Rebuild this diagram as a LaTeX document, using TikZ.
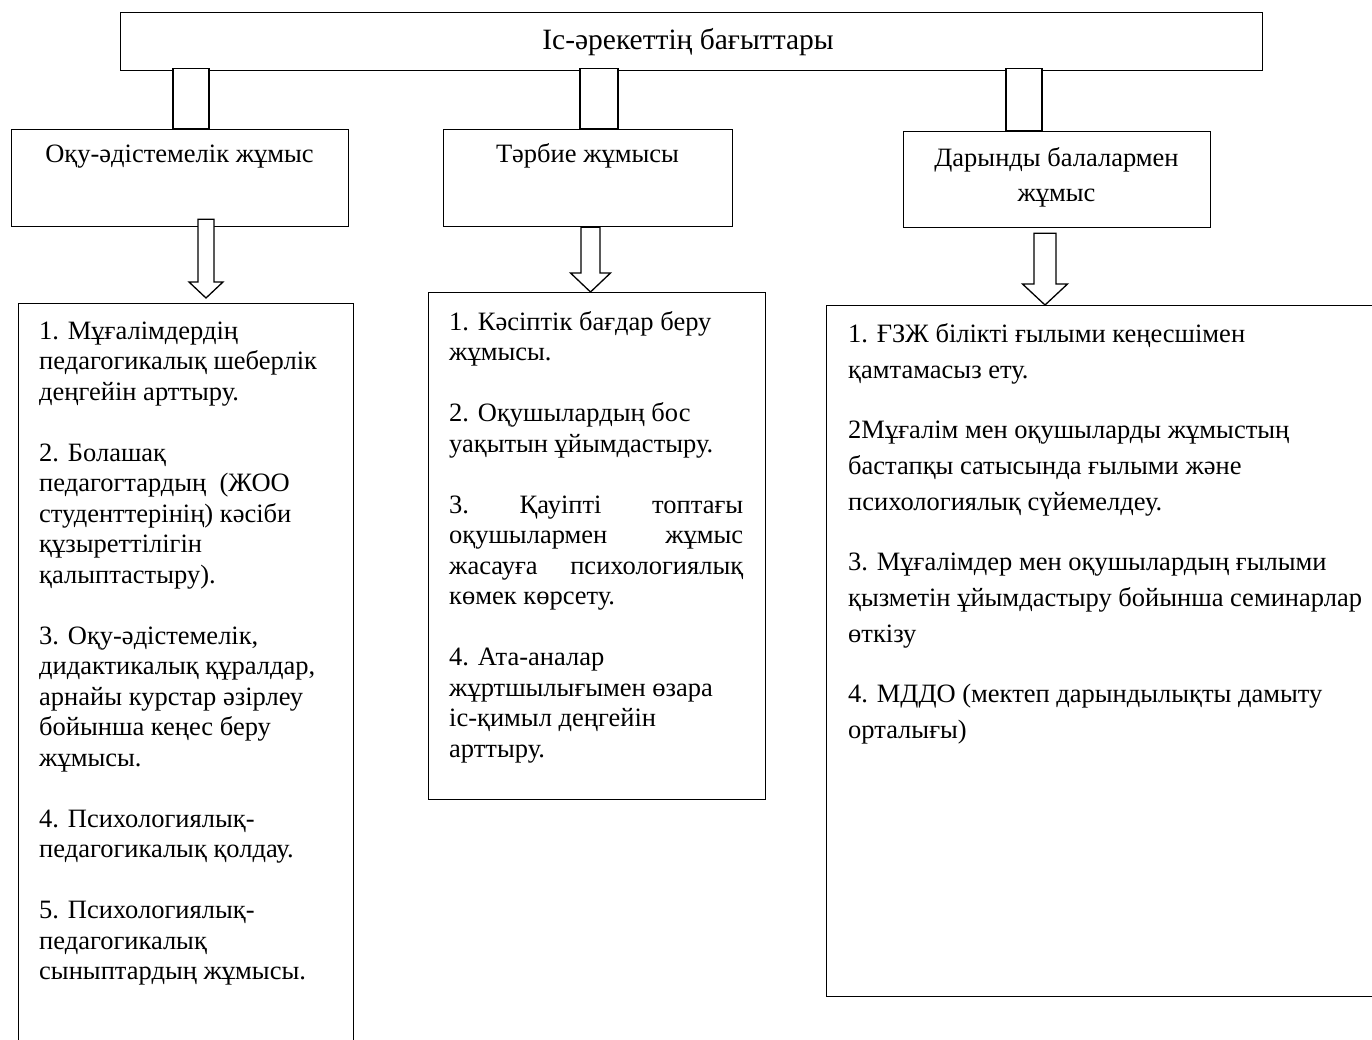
\documentclass[tikz,border=0pt]{standalone}
\usepackage{fontspec}
\setmainfont{Liberation Serif}
\usetikzlibrary{calc}
\newcommand\blkarrow[5]{%
  \draw[arrowshape] ($(#1)+(-#3,0)$) -- ($(#2)+(-#3,-#5)$) -- ($(#2)+(-#4,-#5)$) -- (#2)
    -- ($(#2)+(#4,-#5)$) -- ($(#2)+(#3,-#5)$) -- ($(#1)+(#3,0)$) -- cycle;}
\begin{document}
\begin{tikzpicture}[x=1pt,y=-1pt,
  box/.style={draw, fill=white, line width=1.3pt, inner sep=0pt},
  stemrect/.style={draw, fill=white, line width=1.3pt},
  arrowshape/.style={draw, fill=white, line width=1.3pt, line join=miter},
  head/.style={inner sep=0pt, font=\fontsize{26.5}{35}\selectfont, align=center},
  title/.style={inner sep=0pt, font=\fontsize{29.5}{35}\selectfont},
  body/.style={inner sep=0pt, anchor=base west, align=left, font=\fontsize{26.5}{30.5}\selectfont},
  bodyb/.style={inner sep=0pt, anchor=base west, align=left, font=\fontsize{26.5}{36}\selectfont}]
\useasboundingbox (0,0) rectangle (1372,1040);
\fill[white] (0,0) rectangle (1372,1040);
\clip (0,0) rectangle (1372,1040);

% top box
\node[box, minimum width=1142pt, minimum height=58pt, anchor=north west] (top) at (120,12) {};
\node[title, anchor=base] (toptxt) at (688,50) {Іс-әрекеттің бағыттары};

% header boxes
\node[box, minimum width=337pt, minimum height=97pt, anchor=north west] (h1) at (11,129) {};
\node[box, minimum width=289pt, minimum height=97pt, anchor=north west] (h2) at (443,129) {};
\node[box, minimum width=307pt, minimum height=96pt, anchor=north west] (h3) at (903,131) {};
\node[head, anchor=base] (h1txt) at (179.5,163) {Оқу-әдістемелік жұмыс};
\node[head, anchor=base] (h2txt) at (587.5,163) {Тәрбие жұмысы};
\node[head, anchor=base] (h3txt) at (1056.5,167) {Дарынды балалармен};
\node[head, anchor=base] (h3txtb) at (1056.5,202) {жұмыс};

% stems from top box to headers
\coordinate (s1) at (191,0);
\coordinate (s2) at (599,0);
\coordinate (s3) at (1024,0);
\draw[stemrect] ($(s1 |- top.south)+(-18,-3)$) rectangle ($(s1 |- h1.north)+(18,0)$);
\draw[stemrect] ($(s2 |- top.south)+(-19,-3)$) rectangle ($(s2 |- h2.north)+(19,0)$);
\draw[stemrect] ($(s3 |- top.south)+(-18,-3)$) rectangle ($(s3 |- h3.north)+(18,0)$);

% content boxes
\node[box, minimum width=335pt, minimum height=760pt, anchor=north west] (c1) at (18,303) {};
\node[box, minimum width=337pt, minimum height=507pt, anchor=north west] (c2) at (428,292) {};
\node[box, minimum width=570pt, minimum height=691pt, anchor=north west] (c3) at (826,305) {};

% block arrows
\coordinate (a1) at (206,0);
\coordinate (a2) at (590.5,0);
\coordinate (a3) at (1045,0);
\coordinate (a1s) at ($(a1 |- h1.south)+(0,-8)$);
\coordinate (a1e) at ($(a1 |- c1.north)+(0,-5)$);
\coordinate (a2s) at (a2 |- h2.south);
\coordinate (a2e) at (a2 |- c2.north);
\coordinate (a3s) at ($(a3 |- h3.south)+(0,5)$);
\coordinate (a3e) at (a3 |- c3.north);
\blkarrow{a1s}{a1e}{8}{17}{16}
\blkarrow{a2s}{a2e}{9.5}{20}{19}
\blkarrow{a3s}{a3e}{11}{22.5}{21}

% texts (anchor = baseline of last line)
\node[body] (t1) at (39,979.5) {1. Мұғалімдердің\\
педагогикалық шеберлік\\
деңгейін арттыру.\\[30.5pt]
2. Болашақ\\
педагогтардың\ \ (ЖОО\\
студенттерінің) кәсіби\\
құзыреттілігін\\
қалыптастыру).\\[30.5pt]
3. Оқу-әдістемелік,\\
дидактикалық құралдар,\\
арнайы курстар әзірлеу\\
бойынша кеңес беру\\
жұмысы.\\[30.5pt]
4. Психологиялық-\\
педагогикалық қолдау.\\[30.5pt]
5. Психологиялық-\\
педагогикалық\\
сыныптардың жұмысы.};

\node[body] (t2) at (449,757) {1. Кәсіптік бағдар беру\\
жұмысы.\\[30.5pt]
2. Оқушылардың бос\\
уақытын ұйымдастыру.\\[30.5pt]
\hbox to 294pt{3.\hfill Қауіпті\hfill топтағы}\\
\hbox to 294pt{оқушылармен\hfill жұмыс}\\
\hbox to 294pt{жасауға\hfill психологиялық}\\
көмек көрсету.\\[30.5pt]
4. Ата-аналар\\
жұртшылығымен өзара\\
іс-қимыл деңгейін\\
арттыру.};

\node[bodyb] (t3) at (848,738) {1. ҒЗЖ білікті ғылыми кеңесшімен\\
қамтамасыз ету.\\[24pt]
2Мұғалім мен оқушыларды жұмыстың\\
бастапқы сатысында ғылыми және\\
психологиялық сүйемелдеу.\\[24pt]
3. Мұғалімдер мен оқушылардың ғылыми\\
қызметін ұйымдастыру бойынша семинарлар\\
өткізу\\[24pt]
4. МДДО (мектеп дарындылықты дамыту\\
орталығы)};
\end{tikzpicture}
\end{document}
